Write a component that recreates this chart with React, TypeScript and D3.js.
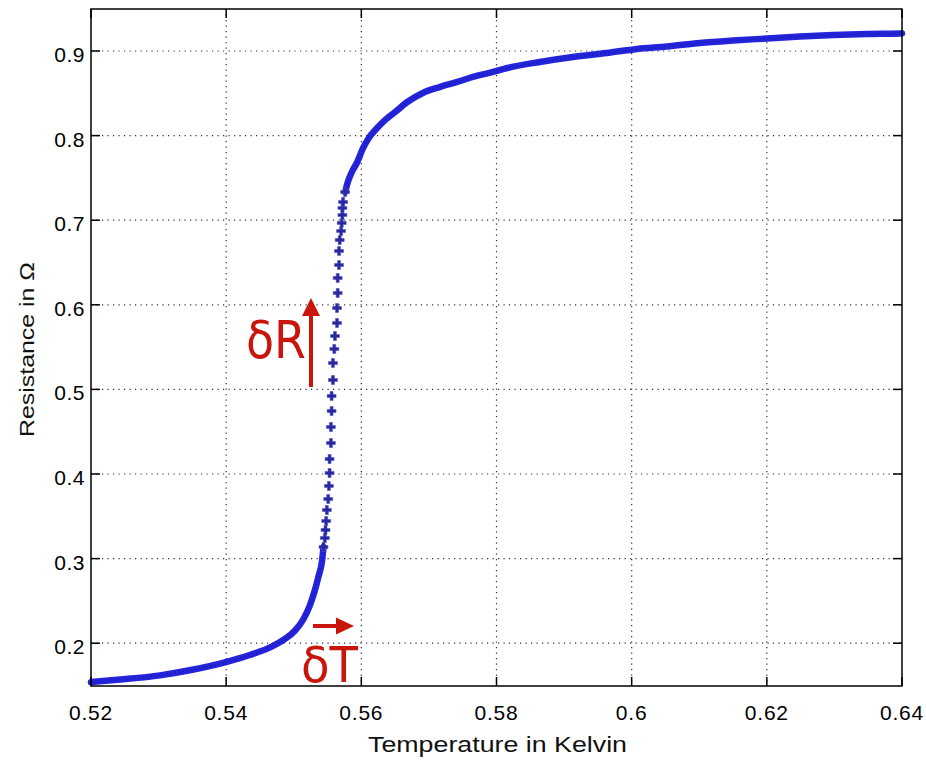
import React, { useEffect, useRef } from 'react'
import * as d3 from 'd3'

// values (temperature in K, resistance in ohm)
const lowTemp = [0.52, 0.5243, 0.5302, 0.5346, 0.5401, 0.5435, 0.5465, 0.5487, 0.5502, 0.5514, 0.5524, 0.5531, 0.5537, 0.5542, 0.5544]
const lowRes = [0.154, 0.157, 0.162, 0.168, 0.178, 0.186, 0.195, 0.205, 0.215, 0.228, 0.245, 0.262, 0.28, 0.298, 0.3137]

const steepTemp = [0.5544, 0.5546, 0.5547, 0.5548, 0.5549, 0.5551, 0.5552, 0.5553, 0.5553, 0.5555, 0.5555, 0.5556, 0.5556, 0.5558, 0.5558, 0.556, 0.5561, 0.5564, 0.5564, 0.5565, 0.5565, 0.5567, 0.5567, 0.5568, 0.557, 0.5571, 0.5572, 0.5572, 0.5573, 0.5576]
const steepRes = [0.3137, 0.3243, 0.3338, 0.3444, 0.3574, 0.3704, 0.3858, 0.4012, 0.4177, 0.4366, 0.4556, 0.4745, 0.4922, 0.5111, 0.5312, 0.5478, 0.5631, 0.5785, 0.5962, 0.6139, 0.6317, 0.647, 0.6636, 0.6766, 0.6872, 0.6967, 0.7061, 0.7144, 0.7215, 0.7333]

const highTemp = [0.5576, 0.558, 0.5586, 0.5594, 0.5602, 0.5611, 0.5622, 0.5635, 0.565, 0.5668, 0.5691, 0.5716, 0.5742, 0.5765, 0.5795, 0.5816, 0.5864, 0.5913, 0.5963, 0.6008, 0.6052, 0.6101, 0.615, 0.62, 0.6249, 0.6298, 0.6348, 0.6397, 0.64]
const highRes = [0.7333, 0.7452, 0.757, 0.7688, 0.7842, 0.7972, 0.8078, 0.8184, 0.8279, 0.8397, 0.8504, 0.8574, 0.8634, 0.8693, 0.8752, 0.8799, 0.887, 0.8929, 0.8976, 0.9024, 0.9053, 0.9095, 0.9124, 0.9148, 0.9171, 0.9189, 0.9201, 0.9207, 0.9208]

const xTicks = [0.52, 0.54, 0.56, 0.58, 0.6, 0.62, 0.64]
const xTickLabels = ['0.52', '0.54', '0.56', '0.58', '0.6', '0.62', '0.64']
const yTicks = [0.2, 0.3, 0.4, 0.5, 0.6, 0.7, 0.8, 0.9]
const yTickLabels = ['0.2', '0.3', '0.4', '0.5', '0.6', '0.7', '0.8', '0.9']

const W = 926
const H = 760
const FONT = '"Liberation Sans", Arial, Helvetica, sans-serif'
const RED = '#c8160c'

export default function App() {
    const ref = useRef<SVGSVGElement>(null)

    useEffect(() => {
        const svg = d3.select(ref.current)
        svg.selectAll('*').remove()

        const left = 91, right = 902, top = 9, bottom = 686
        const x = d3.scaleLinear().domain([0.52, 0.64]).range([left, right])
        const y = d3.scaleLinear().domain([0.15, 0.95]).range([685.5, 8.7])

        svg.append('rect').attr('width', W).attr('height', H).attr('fill', '#fff')

        // dotted grid
        const grid = svg.append('g').attr('stroke', '#333').attr('stroke-width', 1.2)
            .attr('stroke-dasharray', '1.2,4.3')
        grid.selectAll('.gx').data(xTicks.slice(1, -1)).join('line')
            .attr('x1', d => x(d)).attr('x2', d => x(d)).attr('y1', top).attr('y2', bottom)
        grid.selectAll('.gy').data(yTicks).join('line')
            .attr('y1', d => y(d)).attr('y2', d => y(d)).attr('x1', left).attr('x2', right)

        // curve: dense parts as a thick band, steep part as single markers
        const path = d3.line<number>()
            .x(d => x(d))
            .curve(d3.curveMonotoneX)
        const branches: [number[], number[]][] = [[lowTemp, lowRes], [highTemp, highRes]]
        branches.forEach(([ts, rs]) => {
            const p = path.y((_, i) => y(rs[i]))
            svg.append('path').attr('d', p(ts)).attr('fill', 'none')
                .attr('stroke', '#2424dc').attr('stroke-width', 6.5).attr('stroke-linecap', 'round')
            svg.append('path').attr('d', p(ts)).attr('fill', 'none')
                .attr('stroke', '#1a1a9e').attr('stroke-width', 2.5).attr('stroke-dasharray', '1.5,2.5')
                .attr('opacity', 0.5)
        })

        const sym = d3.symbol().type(d3.symbolCross).size(44)
        svg.append('g').selectAll('path').data(steepTemp).join('path')
            .attr('d', sym)
            .attr('transform', (d, i) => `translate(${x(d)},${y(steepRes[i])})`)
            .attr('fill', '#28289a')
            .attr('stroke', '#5050d0').attr('stroke-width', 0.6)

        // frame + ticks
        svg.append('rect').attr('x', left).attr('y', top).attr('width', right - left).attr('height', bottom - top)
            .attr('fill', 'none').attr('stroke', '#000').attr('stroke-width', 1.5)
        const ticks = svg.append('g').attr('stroke', '#000').attr('stroke-width', 1.5)
        xTicks.forEach(t => {
            ticks.append('line').attr('x1', x(t)).attr('x2', x(t)).attr('y1', bottom).attr('y2', bottom - 9)
            ticks.append('line').attr('x1', x(t)).attr('x2', x(t)).attr('y1', top).attr('y2', top + 9)
        })
        yTicks.forEach(t => {
            ticks.append('line').attr('y1', y(t)).attr('y2', y(t)).attr('x1', left).attr('x2', left + 9)
            ticks.append('line').attr('y1', y(t)).attr('y2', y(t)).attr('x1', right).attr('x2', right - 9)
        })

        // tick labels
        svg.append('g').selectAll('text').data(xTicks).join('text')
            .attr('x', d => x(d)).attr('y', 720)
            .attr('text-anchor', 'middle').attr('font-family', FONT).attr('font-size', 21)
            .attr('letter-spacing', 0.8).attr('fill', '#000')
            .text((_, i) => xTickLabels[i])
        svg.append('g').selectAll('text').data(yTicks).join('text')
            .attr('x', 85).attr('y', d => y(d) + 11)
            .attr('text-anchor', 'end').attr('font-family', FONT).attr('font-size', 21)
            .attr('letter-spacing', 0.5).attr('fill', '#000')
            .text((_, i) => yTickLabels[i])

        // axis titles
        svg.append('text').attr('x', 368).attr('y', 752)
            .attr('font-family', FONT).attr('font-size', 22).attr('fill', '#111')
            .attr('textLength', 259).attr('lengthAdjust', 'spacingAndGlyphs')
            .text('Temperature in Kelvin')
        svg.append('text').attr('transform', 'translate(34,437) rotate(-90)')
            .attr('font-family', FONT).attr('font-size', 21).attr('fill', '#111')
            .attr('textLength', 175).attr('lengthAdjust', 'spacingAndGlyphs')
            .text('Resistance in Ω')

        // annotations
        svg.append('text').attr('x', 246).attr('y', 358).attr('font-family', '"DejaVu Sans", sans-serif')
            .attr('font-size', 52).attr('fill', RED).attr('textLength', 60).attr('lengthAdjust', 'spacingAndGlyphs')
            .text('δR')
        svg.append('line').attr('x1', 311).attr('x2', 311).attr('y1', 387).attr('y2', 312)
            .attr('stroke', RED).attr('stroke-width', 4)
        svg.append('path').attr('d', 'M311,298 L302,316 L320,316 Z').attr('fill', RED)

        svg.append('text').attr('x', 301).attr('y', 682).attr('font-family', '"DejaVu Sans", sans-serif')
            .attr('font-size', 50).attr('fill', RED).attr('textLength', 57).attr('lengthAdjust', 'spacingAndGlyphs')
            .text('δT')
        svg.append('line').attr('x1', 313).attr('x2', 340).attr('y1', 626).attr('y2', 626)
            .attr('stroke', RED).attr('stroke-width', 4)
        svg.append('path').attr('d', 'M354,626 L336,617.5 L336,634.5 Z').attr('fill', RED)
    }, [])

    return (
        <div style={{ position: 'absolute', left: 0, top: 0 }}>
            <svg ref={ref} width={W} height={H} style={{ display: 'block' }}></svg>
        </div>
    )
}
